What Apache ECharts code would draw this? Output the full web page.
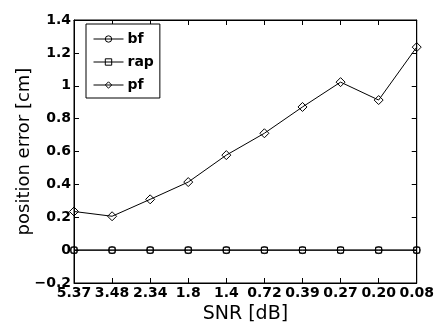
<!DOCTYPE html>
<html>
<head>
<meta charset="utf-8">
<script src="https://cdn.jsdelivr.net/npm/echarts@6/dist/echarts.min.js"></script>
<style>html,body{margin:0;padding:0;background:#fff;}#c{width:437px;height:329px;}</style>
</head>
<body>
<div id="c"></div>
<script>
var categories = ['5.37','3.48','2.34','1.8','1.4','0.72','0.39','0.27','0.20','0.08'];
var bf  = [0,0,0,0,0,0,0,0,0,0];
var rap = [0,0,0,0,0,0,0,0,0,0];
var pf  = [0.235,0.206,0.309,0.414,0.578,0.711,0.871,1.022,0.913,1.235];
var seriesNames = ['bf','rap','pf'];
var xTitle = 'SNR [dB]';
var yTitle = 'position error [cm]';

var chart = echarts.init(document.getElementById('c'), null, {renderer:'canvas'});
var tickFont = {fontFamily:'DejaVu Sans', fontWeight:'bold', fontSize:14, color:'#000'};
function mk(name, data, sym, size, axisIdx){
  return {
    name:name, type:'line', data:data, symbol:sym, symbolSize:size,
    xAxisIndex:axisIdx, yAxisIndex:axisIdx,
    showSymbol:true, animation:false,
    lineStyle:{color:'#000', width:1},
    itemStyle:{color:'rgba(0,0,0,0)', borderColor:'#000', borderWidth:1},
    emphasis:{disabled:true}
  };
}
var option = {
  animation:false,
  backgroundColor:'#fff',
  grid:{left:74, right:19, top:20, bottom:45, containLabel:false,
        show:true, borderColor:'#000', borderWidth:1, backgroundColor:'rgba(0,0,0,0)'},
  legend:{
    orient:'vertical', left:86, top:24,
    data:seriesNames,
    padding:[8,6,6,7], itemGap:9, itemWidth:30, itemHeight:8,
    borderColor:'#000', borderWidth:1, backgroundColor:'#fff',
    itemStyle:{color:'rgba(0,0,0,0)', borderColor:'#000', borderWidth:1},
    lineStyle:{color:'#000', width:1},
    textStyle:{fontFamily:'DejaVu Sans', fontWeight:'bold', fontSize:14, color:'#000', lineHeight:14, padding:[0,0,0,-1]},
    selectedMode:false
  },
  xAxis:[{
    type:'category', data:categories, boundaryGap:false,
    axisLine:{onZero:false, lineStyle:{color:'#000', width:1}},
    axisTick:{inside:true, length:5, lineStyle:{color:'#000'}},
    axisLabel:Object.assign({margin:3, interval:0}, tickFont),
    splitLine:{show:false},
    name:xTitle, nameLocation:'middle', nameGap:22, nameMoveOverlap:false,
    nameTextStyle:{fontFamily:'DejaVu Sans', fontSize:19, color:'#000'}
  },{
    type:'category', data:categories, boundaryGap:false, position:'top',
    axisLine:{show:true, onZero:false, lineStyle:{color:'#000', width:1}},
    axisTick:{show:true, inside:true, length:5, interval:0, lineStyle:{color:'#000'}},
    axisLabel:{show:false, interval:0}, splitLine:{show:false}
  }],
  yAxis:[{
    type:'value', min:-0.2, max:1.4, interval:0.2,
    axisLine:{show:true, onZero:false, lineStyle:{color:'#000', width:1}},
    axisTick:{show:true, inside:true, length:5, lineStyle:{color:'#000'}},
    axisLabel:Object.assign({margin:3, formatter:function(v){return (Math.round(v*10)/10).toString().replace('-','\u2212');}}, tickFont),
    splitLine:{show:false},
    name:yTitle, nameLocation:'middle', nameGap:41, nameMoveOverlap:false,
    nameTextStyle:{fontFamily:'DejaVu Sans', fontSize:18, color:'#000'}
  },{
    type:'value', min:-0.2, max:1.4, interval:0.2, position:'right',
    axisLine:{show:true, onZero:false, lineStyle:{color:'#000', width:1}},
    axisTick:{show:true, inside:true, length:5, lineStyle:{color:'#000'}},
    axisLabel:{show:false}, splitLine:{show:false}
  }],
  series:[
    mk(seriesNames[0], bf, 'circle', 7, 0),
    mk(seriesNames[1], rap, 'rect', 6, 1),
    mk(seriesNames[2], pf, 'diamond', 9, 0)
  ]
};
chart.setOption(option);
</script>
</body>
</html>
